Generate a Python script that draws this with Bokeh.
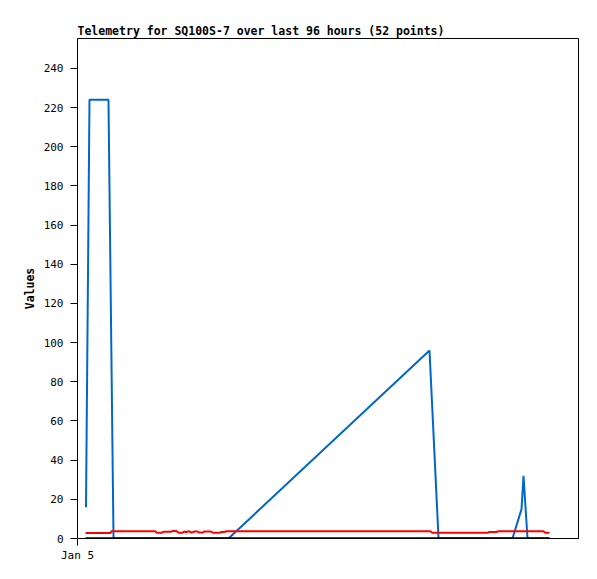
from bokeh.plotting import figure
from bokeh.models import Range1d, FixedTicker, SingleIntervalTicker
from bokeh.embed import file_html
from bokeh.resources import INLINE

# hours since Jan 5 00:00
blue_x = [1.76, 2.48, 6.41, 7.45, 31.24, 72.83, 74.70, 90.0, 91.87, 92.28, 93.11, 97.66]
blue_y = [16, 224, 224, 0, 0, 96, 0, 0, 15, 32, 0, 0]

red_x = [1.66, 6.83, 7.03, 16.14, 16.35, 17.38, 17.79, 19.24, 19.66, 20.48, 20.9, 21.7,
         22.1, 22.5, 23.0, 23.6, 24.2, 24.8, 25.2, 25.9, 26.3, 27.5, 28.1, 29.4, 29.8,
         30.4, 30.8, 73.0, 73.4, 84.8, 85.2, 86.7, 87.1, 96.4, 96.8, 97.66]
red_y = [2.8, 2.8, 3.7, 3.7, 2.9, 2.9, 3.4, 3.4, 3.8, 3.8, 2.9, 2.9,
         3.6, 3.2, 3.8, 3.0, 3.6, 3.6, 3.0, 3.0, 3.6, 3.6, 2.9, 2.9, 3.3,
         3.3, 3.7, 3.7, 2.9, 2.9, 3.3, 3.3, 3.7, 3.7, 2.9, 2.9]

black_x = [1.66, 97.66]
black_y = [0, 0]

x_ticks = [0]
x_tick_labels = {0: "Jan 5"}

FONT = "DejaVu Sans Mono"

p = figure(frame_width=501, frame_height=500, output_backend="svg", toolbar_location=None,
           x_range=Range1d(0, 103.66), y_range=Range1d(0, 255.3),
           title="Telemetry for SQ100S-7 over last 96 hours (52 points)",
           min_border_left=77, min_border_top=38, min_border_right=2, min_border_bottom=30)
p.background_fill_color = "white"
p.border_fill_color = "white"
p.outline_line_color = "black"
p.outline_line_width = 1
p.grid.visible = False

p.title.text_font = FONT
p.title.text_font_size = "11.5px"
p.title.text_font_style = "bold"
p.title.text_color = "black"
p.title.align = "left"
p.title.offset = 0
p.title.standoff = 2

p.line(blue_x, blue_y, line_color="#0066CC", line_width=2)
p.line(red_x, red_y, line_color="#FF0000", line_width=2)
p.line(black_x, black_y, line_color="black", line_width=2.5)

p.xaxis.ticker = FixedTicker(ticks=x_ticks)
p.xaxis.major_label_overrides = x_tick_labels
p.yaxis.ticker = SingleIntervalTicker(interval=20, num_minor_ticks=0)
for ax in (p.xaxis[0], p.yaxis[0]):
    ax.major_label_text_font = FONT
    ax.major_label_text_font_size = "11px"
    ax.major_label_text_color = "black"
    ax.axis_line_color = "black"
    ax.major_tick_line_color = "black"
    ax.major_tick_out = 7
    ax.major_tick_in = 0
    ax.minor_tick_line_color = None
p.xaxis.major_label_standoff = 3
p.yaxis.major_label_standoff = 7
p.yaxis.axis_label = "Values"
p.yaxis.axis_label_text_font = FONT
p.yaxis.axis_label_text_font_size = "11.5px"
p.yaxis.axis_label_text_font_style = "bold"
p.yaxis.axis_label_text_color = "black"
p.yaxis.axis_label_standoff = 4

open("out.html", "w").write(file_html(p, INLINE))
